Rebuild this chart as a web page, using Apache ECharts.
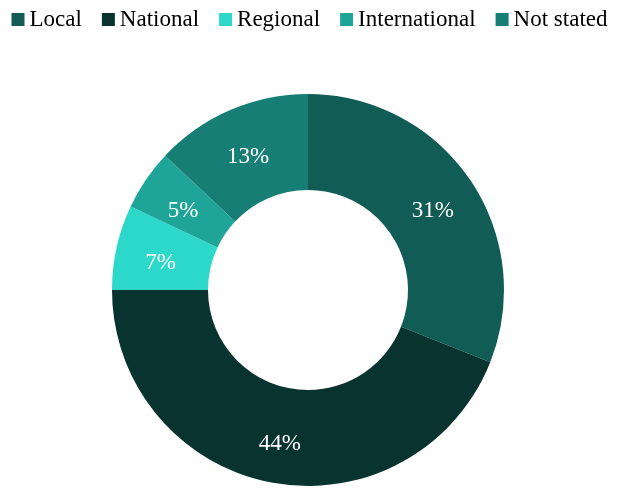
<!DOCTYPE html>
<html>
<head>
<meta charset="utf-8">
<script src="https://cdn.jsdelivr.net/npm/echarts@6/dist/echarts.min.js"></script>
<style>
	html, body { margin: 0; padding: 0; background: #fff; }
	#chart { width: 619px; height: 493px; }
</style>
</head>
<body>
<div id="chart"></div>
<script>
	const categories = ['Local', 'National', 'Regional', 'International', 'Not stated']
	const shares = [31, 44, 7, 5, 13]
	const colors = ['#115c55', '#08332f', '#2bd8ca', '#1fa598', '#177e75']

	const chart = echarts.init(document.getElementById('chart'))

	chart.setOption({
		color: colors,
		legend: {
			top: 3,
			left: 'center',
			icon: 'rect',
			itemWidth: 13,
			itemHeight: 13,
			itemGap: 20,
			textStyle: {
				fontFamily: 'Liberation Serif',
				fontSize: 23,
				color: '#000'
			},
			data: categories
		},
		series: [{
			type: 'pie',
			center: [308, 290],
			radius: [100, 196],
			startAngle: 90,
			clockwise: true,
			avoidLabelOverlap: false,
			label: {
				show: true,
				position: 'inside',
				formatter: '{d}%',
				color: '#fff',
				fontFamily: 'Liberation Serif',
				fontSize: 23,
				offset: [0, 6]
			},
			labelLine: { show: false },
			itemStyle: { borderWidth: 0 },
			emphasis: { disabled: true },
			animation: false,
			data: categories.map((name, i) => ({ name: name, value: shares[i] }))
		}]
	})
</script>
</body>
</html>
